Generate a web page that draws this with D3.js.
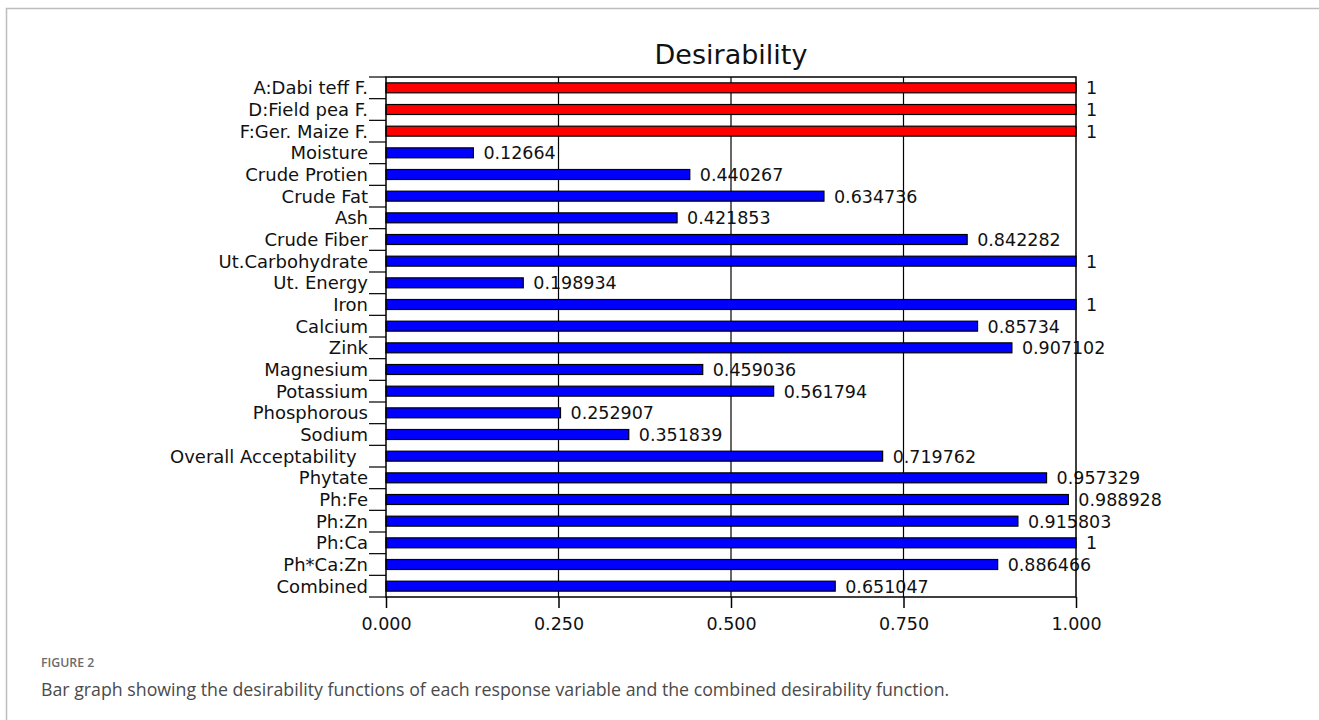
<!DOCTYPE html>
<html>
<head>
<meta charset="utf-8">
<script src="https://cdn.jsdelivr.net/npm/d3@7"></script>
<style>
  body { margin: 0; background: #fff; }
  svg { display: block; }
</style>
</head>
<body>
<div id="chart"></div>
<script>
// Response names, top to bottom
const categories = [
  "A:Dabi teff F.", "D:Field pea F.", "F:Ger. Maize F.", "Moisture", "Crude Protien",
  "Crude Fat", "Ash", "Crude Fiber", "Ut.Carbohydrate", "Ut. Energy", "Iron",
  "Calcium", "Zink", "Magnesium", "Potassium", "Phosphorous", "Sodium",
  "Overall Acceptability  ", "Phytate", "Ph:Fe", "Ph:Zn", "Ph:Ca", "Ph*Ca:Zn", "Combined"
];
const values = [
  1, 1, 1, 0.12664, 0.440267,
  0.634736, 0.421853, 0.842282, 1, 0.198934, 1,
  0.85734, 0.907102, 0.459036, 0.561794, 0.252907, 0.351839,
  0.719762, 0.957329, 0.988928, 0.915803, 1, 0.886466, 0.651047
];
const valueLabels = [
  "1", "1", "1", "0.12664", "0.440267",
  "0.634736", "0.421853", "0.842282", "1", "0.198934", "1",
  "0.85734", "0.907102", "0.459036", "0.561794", "0.252907", "0.351839",
  "0.719762", "0.957329", "0.988928", "0.915803", "1", "0.886466", "0.651047"
];
// factors are drawn red, responses blue
const factorCount = 3;
const xTicks = [0, 0.25, 0.5, 0.75, 1];

const width = 1319, height = 720;
const svg = d3.select("#chart").append("svg")
    .attr("width", width)
    .attr("height", height);

// figure frame (left + top rule only)
svg.append("path")
    .attr("d", `M6.5,${height} V8.5 H${width}`)
    .attr("fill", "none")
    .attr("stroke", "#bdbdbd")
    .attr("stroke-width", 1.5);

const plot = { left: 386, right: 1076, top: 77, bottom: 597 };

const x = d3.scaleLinear().domain([0, 1]).range([plot.left, plot.right]);
const y = d3.scaleBand().domain(categories).range([plot.top, plot.bottom]).paddingInner(0.54).paddingOuter(0.27);
const yBand = d3.scaleBand().domain(categories).range([plot.top, plot.bottom]);

const font = "'DejaVu Sans', Verdana, sans-serif";

// title
svg.append("text")
    .attr("x", (plot.left + plot.right) / 2)
    .attr("y", 64)
    .attr("text-anchor", "middle")
    .attr("font-family", font)
    .attr("font-size", 27)
    .attr("fill", "#111")
    .text("Desirability");

// vertical grid lines
svg.append("g")
    .selectAll("line")
    .data(xTicks.slice(1, -1))
    .join("line")
    .attr("x1", d => x(d)).attr("x2", d => x(d))
    .attr("y1", plot.top).attr("y2", plot.bottom)
    .attr("stroke", "#000")
    .attr("stroke-width", 1.2);

// bars
svg.append("g")
    .selectAll("rect")
    .data(categories)
    .join("rect")
    .attr("x", x(0))
    .attr("y", d => y(d))
    .attr("width", (d, i) => x(values[i]) - x(0))
    .attr("height", y.bandwidth())
    .attr("fill", (d, i) => i < factorCount ? "#ff0000" : "#0000ff")
    .attr("stroke", "#000")
    .attr("stroke-width", 1.2);

// value labels
svg.append("g")
    .selectAll("text")
    .data(categories)
    .join("text")
    .attr("x", (d, i) => x(values[i]) + 10)
    .attr("y", d => y(d) + y.bandwidth() / 2 + 6.5)
    .attr("font-family", font)
    .attr("font-size", 17.5)
    .attr("fill", "#111")
    .text((d, i) => valueLabels[i]);

// plot frame
svg.append("rect")
    .attr("x", plot.left).attr("y", plot.top)
    .attr("width", plot.right - plot.left)
    .attr("height", plot.bottom - plot.top)
    .attr("fill", "none")
    .attr("stroke", "#000")
    .attr("stroke-width", 1.5);

// left axis: ticks at band boundaries, labels centred on the band
const boundaries = categories.map(c => yBand(c)).concat([plot.bottom]);
svg.append("g")
    .selectAll("line")
    .data(boundaries)
    .join("line")
    .attr("x1", plot.left - 17).attr("x2", plot.left)
    .attr("y1", d => d).attr("y2", d => d)
    .attr("stroke", "#000")
    .attr("stroke-width", 1.2);

svg.append("g")
    .selectAll("text")
    .data(categories)
    .join("text")
    .attr("x", plot.left - 18)
    .attr("y", d => yBand(d) + yBand.bandwidth() / 2 + 6.5)
    .attr("text-anchor", "end")
    .style("white-space", "pre")
    .attr("font-family", font)
    .attr("font-size", 18)
    .attr("fill", "#111")
    .text(d => d);

// bottom axis
const xAxis = svg.append("g")
    .attr("transform", `translate(0,${plot.bottom})`)
    .call(d3.axisBottom(x).tickValues(xTicks).tickFormat(d3.format(".3f")).tickSize(11).tickPadding(10));
xAxis.select(".domain").remove();
xAxis.selectAll("line").attr("stroke", "#000").attr("stroke-width", 1.5);
xAxis.selectAll("text")
    .attr("font-family", font)
    .attr("font-size", 17.5)
    .attr("fill", "#111");

// caption
svg.append("text")
    .attr("x", 41).attr("y", 667)
    .attr("font-family", "'Open Sans', sans-serif")
    .attr("font-size", 12.3)
    .attr("font-weight", 600)
    .attr("fill", "#6b6b6b")
    .text("FIGURE 2");

svg.append("text")
    .attr("x", 41).attr("y", 695.5)
    .attr("font-family", "'Open Sans', sans-serif")
    .attr("font-size", 17.75)
    .attr("fill", "#4a4a4a")
    .text("Bar graph showing the desirability functions of each response variable and the combined desirability function.");
</script>
</body>
</html>
